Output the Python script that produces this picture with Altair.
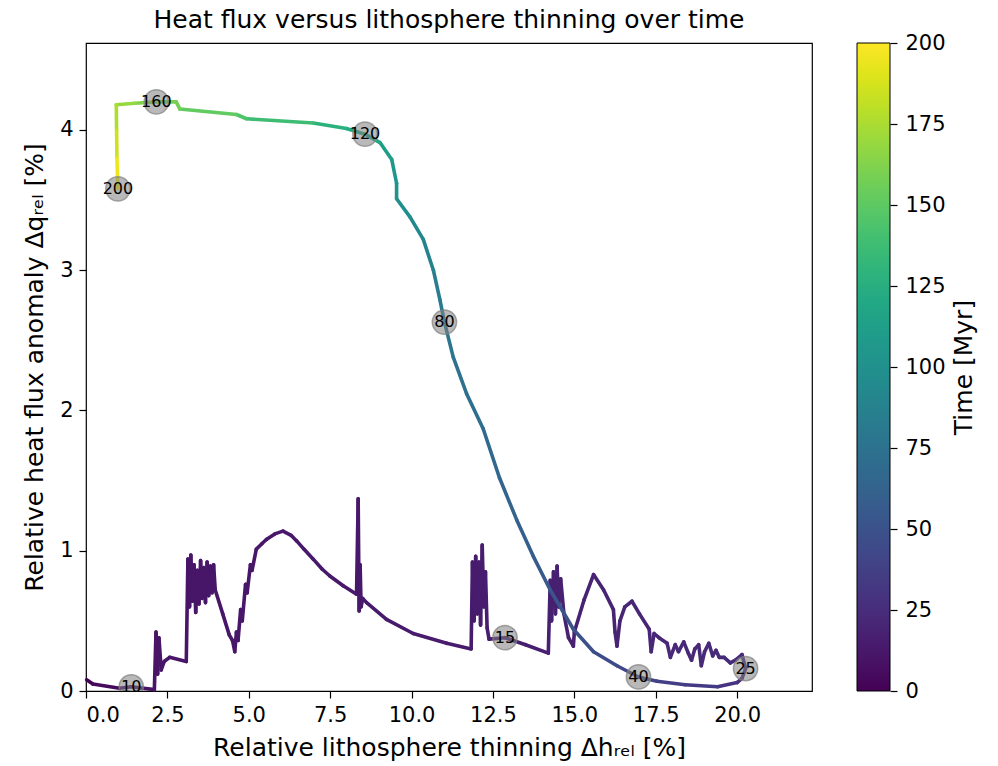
import altair as alt
import pandas as pd

# trajectory: relative lithosphere thinning (x), relative heat flux anomaly (y), time (Myr)
hx = [0.02, 0.21, 1.03, 1.39, 2.10, 2.15, 2.20, 2.24, 2.31, 2.40, 2.57, 3.08,
      3.13, 3.18, 3.22, 3.27, 3.32, 3.37, 3.42, 3.47, 3.52, 3.57, 3.62, 3.67,
      3.72, 3.77, 3.82, 3.87, 3.92, 3.97, 4.20, 4.40, 4.50, 4.57, 4.62, 4.67,
      4.75, 4.80, 4.90, 4.95, 5.05, 5.10, 5.23, 5.40, 5.54, 5.80, 6.05, 6.30,
      6.47, 6.70, 6.98, 7.25, 7.49, 7.90, 8.31, 8.36, 8.39, 8.42, 8.45, 8.50,
      8.62, 9.23, 10.05, 11.08, 11.83, 11.87, 11.92, 11.97, 12.02, 12.07, 12.12, 12.17,
      12.22, 12.27, 12.32, 12.38, 12.87,
      13.50, 14.20, 14.26, 14.30, 14.36, 14.42, 14.47, 14.52, 14.58, 14.68, 14.82,
      14.97, 15.00, 15.30, 15.59, 15.90, 16.20, 16.25, 16.31, 16.40, 16.55, 16.77,
      17.00, 17.30, 17.36, 17.45, 17.60, 17.85, 17.95, 18.10, 18.20, 18.36, 18.50,
      18.60, 18.70, 18.82, 18.90, 19.00, 19.13, 19.25, 19.35, 19.45, 19.60, 19.79,
      19.95, 20.15, 20.26,
      20.15, 20.00, 19.40, 18.40, 17.54, 16.97,
      16.31, 15.59, 14.97, 14.26, 13.74, 13.23, 12.70, 12.20, 11.69, 11.28, 11.01,
      10.87, 10.67, 10.36, 9.95, 9.54, 9.54, 9.39, 9.03, 8.57,
      8.00, 6.98, 4.93, 4.62, 2.88, 2.77, 2.16,
      1.50, 0.93, 0.94, 0.95, 0.98]
dq = [0.08, 0.05, 0.02, 0.03, 0.01, 0.42, 0.12, 0.38, 0.15, 0.21, 0.24, 0.21,
      0.94, 0.60, 0.97, 0.64, 0.90, 0.56, 0.86, 0.62, 0.93, 0.66, 0.88, 0.63,
      0.92, 0.68, 0.89, 0.70, 0.90, 0.72, 0.55, 0.40, 0.36, 0.28, 0.42, 0.36,
      0.58, 0.50, 0.76, 0.70, 0.90, 0.86, 1.01, 1.05, 1.08, 1.12, 1.14, 1.11,
      1.07, 1.01, 0.94, 0.87, 0.82, 0.75, 0.69, 1.37, 0.57, 0.90, 0.60, 0.66,
      0.63, 0.51, 0.41, 0.34, 0.30, 0.92, 0.50, 0.96, 0.55, 0.92, 0.47, 1.04,
      0.60, 0.85, 0.45, 0.37, 0.38,
      0.33, 0.27, 0.79, 0.50, 0.85, 0.55, 0.89, 0.60, 0.80, 0.55, 0.38,
      0.32, 0.42, 0.65, 0.83, 0.72, 0.58, 0.42, 0.32, 0.50, 0.60, 0.64,
      0.55, 0.44, 0.28, 0.41, 0.38, 0.34, 0.24, 0.33, 0.28, 0.35, 0.27,
      0.22, 0.30, 0.33, 0.18, 0.28, 0.34, 0.25, 0.29, 0.24, 0.24, 0.20,
      0.22, 0.26, 0.16,
      0.09, 0.06, 0.03, 0.045, 0.07, 0.10,
      0.18, 0.28, 0.44, 0.72, 0.96, 1.22, 1.52, 1.87, 2.12, 2.38, 2.63,
      2.79, 3.00, 3.22, 3.38, 3.51, 3.62, 3.79, 3.91, 3.97,
      4.01, 4.05, 4.08, 4.11, 4.15, 4.20, 4.20,
      4.19, 4.18, 4.00, 3.80, 3.58]
tm = [0, 1.5, 7, 10, 10.3, 10.35, 10.4, 10.42, 10.45, 10.5, 10.55, 10.75,
      10.78, 10.8, 10.82, 10.85, 10.87, 10.9, 10.92, 10.95, 10.97, 11.0, 11.02, 11.05,
      11.07, 11.1, 11.12, 11.15, 11.17, 11.2, 11.3, 11.4, 11.45, 11.48, 11.5, 11.52,
      11.55, 11.57, 11.6, 11.62, 11.66, 11.68, 11.73, 11.8, 11.86, 11.96, 12.06, 12.16,
      12.23, 12.32, 12.43, 12.54, 12.63, 12.8, 12.96, 12.98, 13.0, 13.01, 13.02, 13.04,
      13.09, 13.33, 13.66, 14.07, 14.37, 14.38, 14.4, 14.42, 14.44, 14.46, 14.48, 14.5,
      14.52, 14.54, 14.56, 14.6, 15,
      15.9, 16.8, 16.9, 16.95, 17.0, 17.1, 17.15, 17.2, 17.3, 17.45, 17.6,
      17.8, 17.85, 18.25, 18.7, 19.1, 19.5, 19.55, 19.6, 19.75, 19.95, 20.2,
      20.5, 20.9, 21.0, 21.1, 21.3, 21.6, 21.75, 21.95, 22.1, 22.3, 22.5,
      22.6, 22.75, 22.9, 23.0, 23.15, 23.3, 23.5, 23.6, 23.75, 23.95, 24.2,
      24.4, 24.7, 25,
      26.5, 28, 31.5, 35, 38, 40,
      43, 46.5, 50, 54, 57.5, 61, 65, 69.5, 73.5, 77, 80,
      82.5, 86, 91, 96, 101, 104, 109, 115, 120,
      124, 131, 144, 146, 157, 158, 160,
      165, 172, 180, 190, 200]

# labelled time markers
mk_t = [10, 15, 25, 40, 80, 120, 160, 200]
mk_x = [1.39, 12.87, 20.26, 16.97, 11.01, 8.57, 2.16, 0.98]
mk_y = [0.03, 0.38, 0.16, 0.10, 2.63, 3.97, 4.20, 3.58]

x_ticks = [0.0, 2.5, 5.0, 7.5, 10.0, 12.5, 15.0, 17.5, 20.0]
y_ticks = [0, 1, 2, 3, 4]
cb_ticks = [0, 25, 50, 75, 100, 125, 150, 175, 200]

seg = pd.DataFrame({
    "x": hx[:-1], "y": dq[:-1], "x2": hx[1:], "y2": dq[1:],
    "t": [(a + b) / 2 for a, b in zip(tm[:-1], tm[1:])],
})
mk = pd.DataFrame({"x": mk_x, "y": mk_y, "t": mk_t, "lab": [str(v) for v in mk_t]})

FONT = "DejaVu Sans"
xs = alt.Scale(domain=[0, 22.3], nice=False, zero=False)
ys = alt.Scale(domain=[0, 4.62], nice=False, zero=False)

lines = alt.Chart(seg).mark_rule(strokeWidth=3.6, strokeCap="round").encode(
    x=alt.X("x:Q", scale=xs, axis=alt.Axis(values=x_ticks, format=".1f",
            title="Relative lithosphere thinning Δhᵣₑₗ [%]", titlePadding=10)),
    y=alt.Y("y:Q", scale=ys, axis=alt.Axis(values=y_ticks, format="d",
            title="Relative heat flux anomaly Δqᵣₑₗ [%]", titlePadding=12)),
    x2="x2:Q",
    y2="y2:Q",
    color=alt.Color("t:Q", scale=alt.Scale(scheme="viridis", domain=[0, 200]),
                    legend=alt.Legend(orient="none", legendX=771, legendY=0,
                                      direction="vertical", gradientLength=648,
                                      gradientThickness=33, title=None,
                                      labelExpr="''", padding=0,
                                      gradientStrokeColor="black",
                                      gradientStrokeWidth=1)),
)

dots = alt.Chart(mk).mark_circle(size=590, color="#808080", fillOpacity=0.55,
                                 stroke="#808080", strokeWidth=1.5, strokeOpacity=0.7,
                                 clip=True).encode(
    x=alt.X("x:Q", scale=xs),
    y=alt.Y("y:Q", scale=ys),
)

labels = alt.Chart(mk).mark_text(font=FONT, fontSize=16, color="black",
                                 align="center", baseline="middle").encode(
    x=alt.X("x:Q", scale=xs),
    y=alt.Y("y:Q", scale=ys),
    text="lab:N",
)

main = alt.layer(lines, dots, labels)

cbar_axis = alt.Chart(pd.DataFrame({"tc": cb_ticks})).mark_point(opacity=0).encode(
    y=alt.Y("tc:Q", scale=alt.Scale(domain=[0, 200], nice=False),
            axis=alt.Axis(orient="right", offset=78, values=cb_ticks, title="Time [Myr]",
                          titleAngle=270, titleBaseline="top", titlePadding=6,
                          labelPadding=8, domain=False)),
)

chart = alt.layer(main, cbar_axis).resolve_scale(y="independent").properties(
    width=726, height=648,
    title=alt.TitleParams("Heat flux versus lithosphere thinning over time",
                          font=FONT, fontSize=25, fontWeight="normal", color="black",
                          anchor="middle", offset=-1),
    padding={"left": 86, "top": 43, "right": 186, "bottom": 75},
    autosize=alt.AutoSizeParams(type="none"),
).configure_view(stroke="black", strokeWidth=1.2).configure_axis(
    grid=False, domain=False, labelFont=FONT, labelFontSize=21, labelColor="black",
    titleFont=FONT, titleFontSize=25, titleFontWeight="normal", titleColor="black",
    tickColor="black", tickSize=7, tickWidth=1.2, labelPadding=6,
)

chart.save("out.html", embed_options={"renderer": "svg", "actions": False})
